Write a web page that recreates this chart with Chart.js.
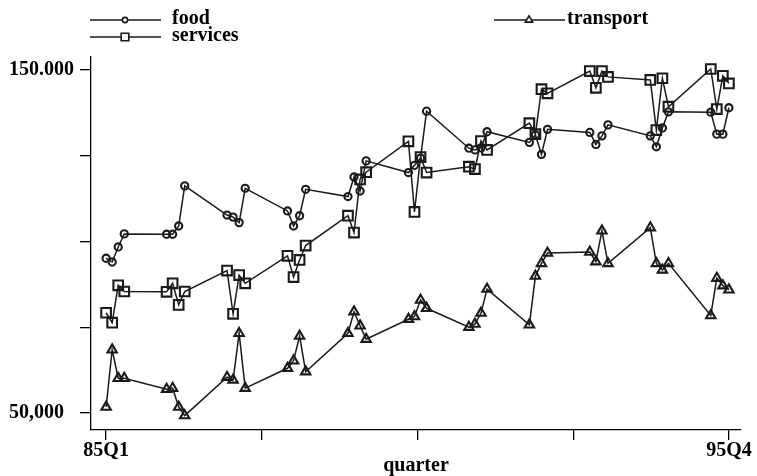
<!DOCTYPE html>
<html>
<head>
<meta charset="utf-8">
<script src="https://cdn.jsdelivr.net/npm/chart.js@4"></script>
<style>
  html, body { margin: 0; padding: 0; background: #fff; }
  #wrap { width: 757px; height: 476px; position: relative; }
</style>
</head>
<body>
<div id="wrap"><canvas id="chart"></canvas></div>
<script>
// quarter positions (yy.q)
const quarters = [
  85.1, 85.2, 85.3, 85.4, 86.1, 86.2, 86.3, 86.4, 87.1, 87.2, 87.3, 87.4,
  88.1, 88.2, 88.3, 88.4, 89.1, 89.2, 89.3, 89.4, 90.1, 90.2, 90.3, 90.4,
  91.1, 91.2, 91.3, 91.4, 92.1, 92.2, 92.3, 92.4, 93.1, 93.2, 93.3, 93.4,
  94.1, 94.2, 94.3, 94.4, 95.1, 95.2, 95.3, 95.4
];

const food = [
  95100, 94000, 98400, 102200, 102100, 102100, 104500, 116200, 107700, 107100, 105500, 115500,
  108900, 104500, 107500, 115200, 113100, 118800, 114700, 123500, 120100, 122200, 124300, 138000,
  127200, 126700, 127300, 132000, 128900, 131100, 125400, 132700, 131800, 128300, 130800, 134000,
  130800, 127600, 133100, 137800, 137700, 131300, 131300, 139000
];

const services = [
  79200, 76300, 87200, 85400, 85300, 87800, 81500, 85400, 91500, 78900, 90200, 87800,
  95800, 89600, 94600, 98800, 107500, 102600, 118100, 120200, 129200, 108600, 124600, 120100,
  121800, 121100, 129300, 126700, 134500, 131300, 144400, 143200, 149700, 144800, 149700, 148000,
  147100, 132500, 147600, 139300, 150300, 138600, 148300, 146100
];

const transport = [
  51700, 68400, 60100, 60100, 56900, 57200, 51700, 49200, 60400, 59600, 73200, 57200,
  63000, 65200, 72400, 62000, 73200, 79500, 75400, 71500, 77300, 78100, 82900, 80500,
  75000, 75900, 79100, 86100, 75700, 89900, 93600, 96600, 96900, 94100, 103100, 93600,
  104000, 93600, 91700, 93600, 78400, 89300, 87100, 85900
];

const xTicks = [85.1, 87.675, 90.25, 92.825, 95.4];
const xTickLabels = ['85Q1', '', '', '', '95Q4'];
const yTicks = [50000, 75000, 100000, 125000, 150000];
const yTickLabels = ['50,000', '', '', '', '150.000'];

const ink = '#1a1a1a';
const fontFam = '"Liberation Serif", "DejaVu Serif", serif';

function pts(values) {
  return values.map((v, i) => ({ x: quarters[i], y: v }));
}

function series(label, values, style, radius) {
  return {
    label: label,
    data: pts(values),
    borderColor: ink,
    borderWidth: 1.5,
    backgroundColor: 'rgba(0,0,0,0)',
    pointStyle: style,
    pointRadius: radius,
    pointBorderWidth: 2.1,
    pointBorderColor: ink,
    pointBackgroundColor: 'rgba(0,0,0,0)',
    tension: 0,
    clip: false
  };
}

// stata-like legend: two columns, line with marker in the middle
const legendSpots = [
  { x: 90, y: 20, tx: 172 },   // food
  { x: 90, y: 37, tx: 172 },   // services
  { x: 494, y: 20, tx: 567 }   // transport
];
const legendMarkerSize = [2.6, 5.4, 4.2];

const stataLegend = {
  id: 'stataLegend',
  afterDraw(chart) {
    const c = chart.ctx;
    c.save();
    chart.data.datasets.forEach((ds, i) => {
      const s = legendSpots[i];
      c.strokeStyle = ink;
      c.lineWidth = 1.4;
      c.beginPath();
      c.moveTo(s.x, s.y);
      c.lineTo(s.x + 71, s.y);
      c.stroke();
      c.fillStyle = '#fff';
      c.lineWidth = 1.6;
      Chart.helpers.drawPoint(c, {
        pointStyle: ds.pointStyle,
        radius: legendMarkerSize[i],
        borderWidth: 1.6,
        rotation: 0
      }, s.x + 35, s.y);
      c.fillStyle = '#000';
      c.font = 'bold 20px ' + fontFam;
      c.textBaseline = 'middle';
      c.textAlign = 'left';
      c.fillText(ds.label, s.tx, s.y - 1);
    });
    c.restore();
  }
};

new Chart(document.getElementById('chart'), {
  type: 'line',
  data: {
    datasets: [
      series('food', food, 'circle', 3.6),
      series('services', services, 'rect', 6.8),
      series('transport', transport, 'triangle', 5.4)
    ]
  },
  options: {
    responsive: true,
    maintainAspectRatio: false,
    animation: false,
    layout: { padding: { top: 57, right: 16, left: 9, bottom: 0 } },
    plugins: {
      legend: { display: false },
      tooltip: { enabled: false }
    },
    scales: {
      x: {
        type: 'linear',
        min: 84.85,
        max: 95.6,
        afterBuildTicks(scale) {
          scale.ticks = xTicks.map(v => ({ value: v }));
        },
        afterFit(scale) { scale.height = 46; },
        ticks: {
          autoSkip: false,
          maxRotation: 0,
          padding: 1,
          color: '#000',
          font: { family: fontFam, size: 20, weight: 'bold', lineHeight: 1 },
          callback(v) {
            const k = xTicks.findIndex(t => Math.abs(t - v) < 1e-6);
            return k >= 0 ? xTickLabels[k] : '';
          }
        },
        grid: {
          drawOnChartArea: false,
          drawTicks: true,
          tickLength: 10,
          color: '#000',
          lineWidth: 1.3
        },
        border: { display: true, color: '#000', width: 1.3 },
        title: {
          display: true,
          text: 'quarter',
          color: '#000',
          padding: { top: 0, bottom: 0 },
          font: { family: fontFam, size: 20, weight: 'bold', lineHeight: 1 }
        }
      },
      y: {
        type: 'linear',
        min: 45000,
        max: 153800,
        afterBuildTicks(scale) {
          scale.ticks = yTicks.map(v => ({ value: v }));
        },
        afterFit(scale) { scale.width = 82; },
        ticks: {
          padding: 2,
          crossAlign: 'far',
          color: '#000',
          font: { family: fontFam, size: 20, weight: 'bold' },
          callback(v) {
            const k = yTicks.indexOf(v);
            return k >= 0 ? yTickLabels[k] : '';
          }
        },
        grid: {
          drawOnChartArea: false,
          drawTicks: true,
          tickLength: 11,
          color: '#000',
          lineWidth: 1.3
        },
        border: { display: true, color: '#000', width: 1.3 }
      }
    }
  },
  plugins: [stataLegend]
});
</script>
</body>
</html>
